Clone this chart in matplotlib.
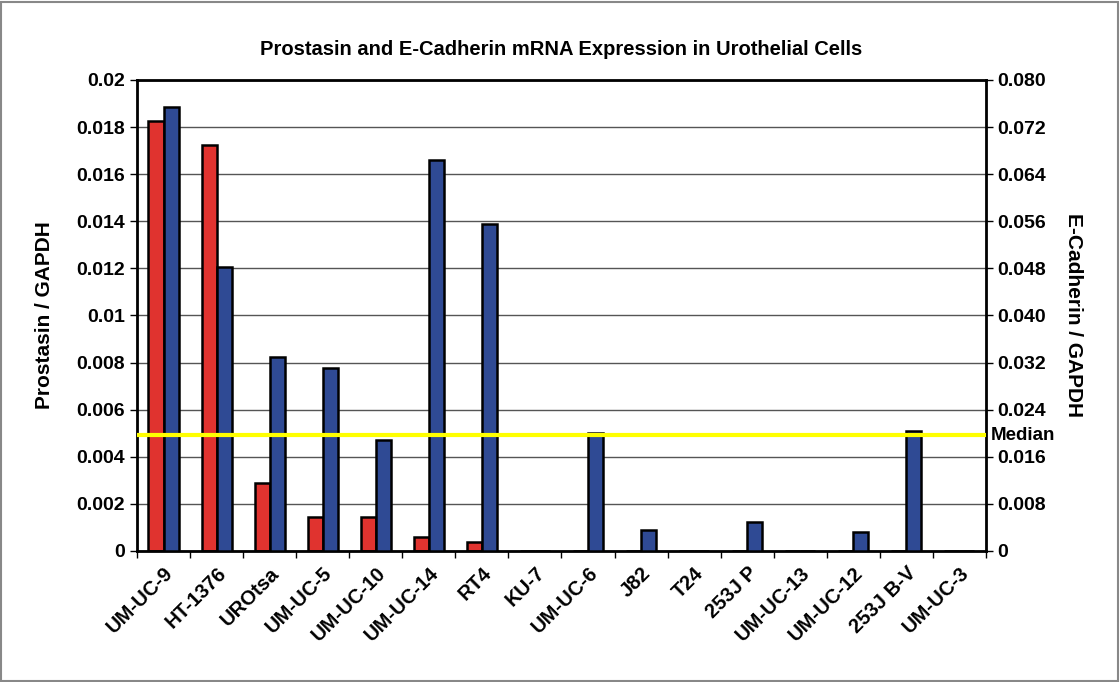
import matplotlib.pyplot as plt
import numpy as np
from matplotlib.patches import Rectangle
from matplotlib.ticker import FixedLocator

# Datos
lineas = ['UM-UC-9', 'HT-1376', 'UROtsa', 'UM-UC-5', 'UM-UC-10', 'UM-UC-14', 'RT4', 'KU-7',
          'UM-UC-6', 'J82', 'T24', '253J P', 'UM-UC-13', 'UM-UC-12', '253J B-V', 'UM-UC-3']
prostasin = [0.01826, 0.01724, 0.00289, 0.00144, 0.00144, 0.00059, 0.00038, 0,
             0, 0, 0, 0, 0, 0, 0, 0]
ecadherin = [0.0754, 0.0482, 0.0330, 0.0311, 0.0189, 0.0664, 0.0555, 0,
             0.0200, 0.0036, 0, 0.0049, 0, 0.0032, 0.0204, 0]
mediana = 0.00492

ticks_izq = [0, 0.002, 0.004, 0.006, 0.008, 0.01, 0.012, 0.014, 0.016, 0.018, 0.02]
etiquetas_izq = ['0', '0.002', '0.004', '0.006', '0.008', '0.01', '0.012', '0.014',
                 '0.016', '0.018', '0.02']
ticks_der = [0, 0.008, 0.016, 0.024, 0.032, 0.040, 0.048, 0.056, 0.064, 0.072, 0.080]
etiquetas_der = ['0', '0.008', '0.016', '0.024', '0.032', '0.040', '0.048', '0.056',
                 '0.064', '0.072', '0.080']

plt.rcParams['font.family'] = ['Liberation Sans', 'DejaVu Sans']
plt.rcParams['font.weight'] = 'bold'

fig = plt.figure(figsize=(11.2, 6.82), dpi=100)
ax = fig.add_axes([0.1223, 0.1921, 0.758, 0.6906])
ax2 = ax.twinx()

x = np.arange(len(lineas))
ancho = 0.283
rojo = '#E0332F'
azul = '#2F4A94'

ax.bar(x - ancho / 2, prostasin, ancho, color=rojo, edgecolor='black', linewidth=1.8, zorder=3)
ax2.bar(x + ancho / 2, ecadherin, ancho, color=azul, edgecolor='black', linewidth=1.8, zorder=3)

ax.set_xlim(-0.5, len(lineas) - 0.5)
ax.set_ylim(0, 0.02)
ax2.set_ylim(0, 0.08)

ax.set_yticks(ticks_izq)
ax.set_yticklabels(etiquetas_izq, fontsize=14, fontweight='bold')
ax2.set_yticks(ticks_der)
ax2.set_yticklabels(etiquetas_der, fontsize=14, fontweight='bold')

ax.set_xticks(x)
ax.set_xticklabels(lineas, rotation=45, ha='right', rotation_mode='anchor',
                   fontsize=14.5, fontweight='bold')
ax.tick_params(axis='x', length=0, pad=9)
ax.xaxis.set_minor_locator(FixedLocator(np.arange(-0.5, len(lineas), 1)))
ax.tick_params(axis='x', which='minor', length=5, width=1, direction='out')
ax.tick_params(axis='y', length=5, width=1)
ax2.tick_params(axis='y', length=5, width=1)

ax.grid(axis='y', color='#555555', linewidth=1, zorder=0)
ax.set_axisbelow(True)

# linea de la mediana (encima de todas las barras)
ax2.axhline(mediana * 4, color='#FFFF00', linewidth=3, zorder=5)
ax2.text(1.006, mediana / 0.02, 'Median', transform=ax.transAxes, fontsize=13.5,
         fontweight='bold', va='center', ha='left')

for s in ['left', 'right', 'bottom', 'top']:
    ax2.spines[s].set_linewidth(2)
    ax2.spines[s].set_color('black')

ax.set_ylabel('Prostasin / GAPDH', fontsize=15, fontweight='bold', labelpad=16)
ax2.set_ylabel('E-Cadherin / GAPDH', fontsize=15, fontweight='bold', rotation=270,
               labelpad=26)
ax.set_title('Prostasin and E-Cadherin mRNA Expression in Urothelial Cells',
             fontsize=14.5, fontweight='bold', pad=18)

# marco gris alrededor de la figura
fig.patches.append(Rectangle((0.001, 0.002), 0.997, 0.995, transform=fig.transFigure,
                             fill=False, edgecolor='#888888', linewidth=1.5))

fig.savefig('out.png', dpi=100)
